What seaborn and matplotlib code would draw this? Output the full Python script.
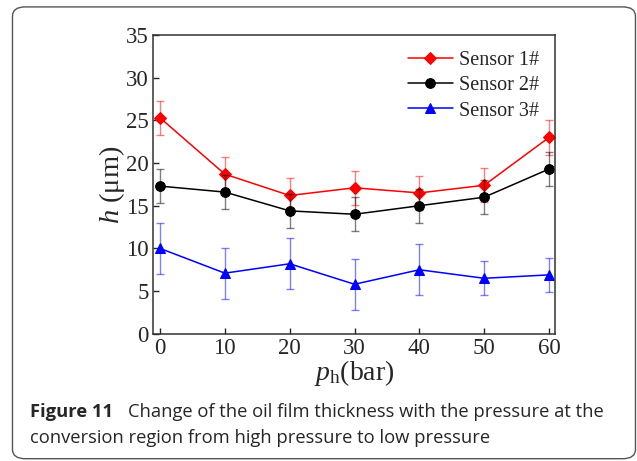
import numpy as np
import pandas as pd
import matplotlib
matplotlib.use("Agg")
import matplotlib.pyplot as plt
import seaborn as sns
from matplotlib.patches import FancyBboxPatch

# DATA

pressure = [0, 10, 20, 30, 40, 50, 60]

sensor1 = [25.3, 18.7, 16.2, 17.1, 16.5, 17.4, 23.0]
sensor1_err = [2, 2, 2, 2, 2, 2, 2]

sensor2 = [17.3, 16.6, 14.4, 14.0, 15.0, 16.0, 19.3]
sensor2_err = [2, 2, 2, 2, 2, 2, 2]

sensor3 = [10.0, 7.1, 8.2, 5.8, 7.5, 6.5, 6.9]
sensor3_err = [3, 3, 3, 3, 3, 2, 2]

labels = ["Sensor 1#", "Sensor 2#", "Sensor 3#"]
colors = ["#ff0000", "#000000", "#0000ff"]
markers = ["D", "o", "^"]

# STYLE

sns.set_style("ticks")
plt.rcParams["font.family"] = ["Liberation Serif", "DejaVu Serif"]
plt.rcParams["mathtext.fontset"] = "custom"
plt.rcParams["mathtext.it"] = "Liberation Serif:italic"
plt.rcParams["mathtext.rm"] = "Liberation Serif"

fig = plt.figure(figsize=(6.37, 4.61), dpi=100)
ax = fig.add_axes([0.240, 0.276, 0.631, 0.648])

# rounded frame round the whole figure
frame = FancyBboxPatch((0.0196, 0.005), 0.978, 0.980,
                       boxstyle="round,pad=0,rounding_size=0.02",
                       transform=fig.transFigure, fill=False,
                       edgecolor="#555555", linewidth=1.0, zorder=0)
fig.patches.append(frame)

# PLOT

series = [sensor1, sensor2, sensor3]
errors = [sensor1_err, sensor2_err, sensor3_err]
sizes = [6, 7, 7.5]

for vals, errs, lab, col, mk, ms in zip(series, errors, labels, colors, markers, sizes):
    df = pd.DataFrame({"p": pressure, "h": vals})
    ax.errorbar(df["p"], df["h"], yerr=errs, fmt="none", ecolor=col,
                alpha=0.5, elinewidth=1.0, capsize=3, capthick=1.0)
    sns.lineplot(data=df, x="p", y="h", ax=ax, color=col, marker=mk,
                 markersize=ms, markeredgecolor=col,
                 linewidth=1.1, label=lab)

ax.set_xlim(-1.1, 60.9)
ax.set_ylim(0, 35)
ax.set_xticks(pressure)
ax.set_yticks(range(0, 36, 5))
ax.tick_params(direction="in", length=4, width=1, labelsize=16.5, pad=3)

for s in ax.spines.values():
    s.set_visible(True)
    s.set_linewidth(1.1)
    s.set_color("#333333")

ax.set_xlabel(r"$p_\mathrm{h}$(bar)", fontsize=20, labelpad=-1)
ax.set_ylabel("$h$ (μm)", fontsize=20.5, labelpad=-1)

leg = ax.legend(loc="upper right", frameon=False, fontsize=14.5,
                handlelength=2.2, borderaxespad=0.4, labelspacing=0.3,
                handletextpad=0.3)

# CAPTION

fig.text(0.047, 0.095, "Figure 11", fontsize=13.2, fontweight="bold",
         family="Open Sans", va="baseline")
fig.text(0.201, 0.095,
         "Change of the oil film thickness with the pressure at the",
         fontsize=13.2, family="Open Sans", va="baseline")
fig.text(0.047, 0.039,
         "conversion region from high pressure to low pressure",
         fontsize=13.2, family="Open Sans", va="baseline")

fig.savefig("out.png", dpi=100)
